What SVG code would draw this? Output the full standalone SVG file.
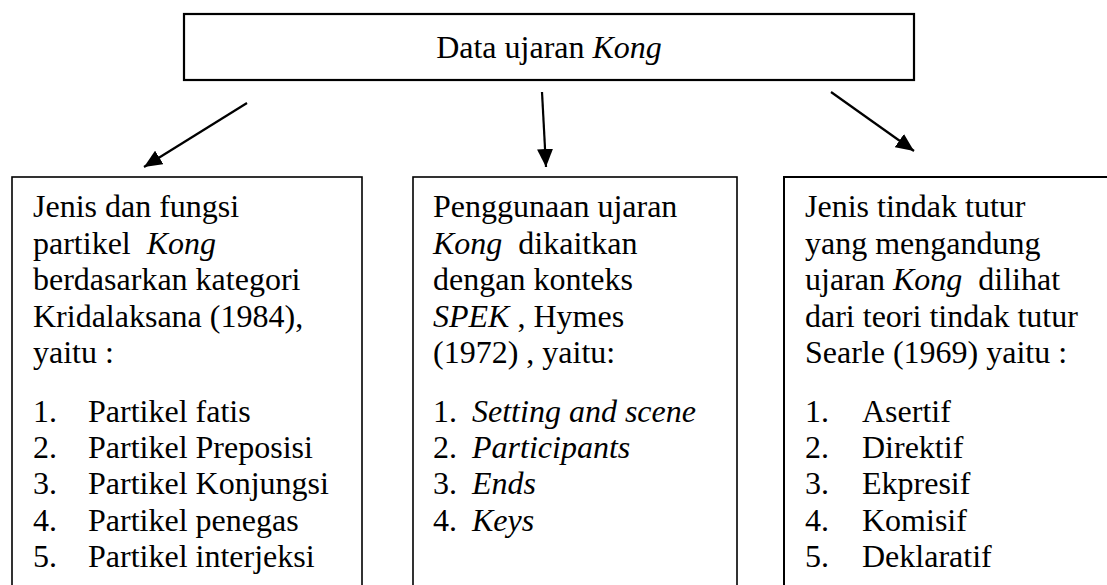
<svg xmlns="http://www.w3.org/2000/svg" width="1107" height="585" viewBox="0 0 1107 585">
<style>
  text { font-family: "Liberation Serif", "Times New Roman", "DejaVu Serif", "Noto Serif", serif; font-size: 32px; fill: #000; white-space: pre; }
  .i { font-style: italic; }
  .box { fill: #fff; stroke: #000; }
  .conn { stroke: #000; stroke-width: 2.2; fill: none; marker-end: url(#ah); }
</style>
<defs>
  <marker id="ah" markerUnits="userSpaceOnUse" markerWidth="19" markerHeight="16" refX="18" refY="8" orient="auto">
    <path d="M0,0 L18,8 L0,16 Z" fill="#000"/>
  </marker>
</defs>
<rect width="1107" height="585" fill="#fff"/>

<g id="top">
  <rect class="box" x="184" y="14" width="730" height="66" stroke-width="2.2"/>
  <text x="549" y="58" text-anchor="middle">Data ujaran <tspan class="i">Kong</tspan></text>
</g>

<g id="connectors">
  <line class="conn" x1="247" y1="103" x2="144" y2="167"/>
  <line class="conn" x1="542" y1="92" x2="546" y2="167"/>
  <line class="conn" x1="831" y1="92" x2="914" y2="151"/>
</g>

<g id="left">
  <rect class="box" x="12" y="177" width="350" height="430" stroke-width="1.6"/>
  <text x="33" y="217">Jenis dan fungsi</text>
  <text x="33" y="253.5">partikel  <tspan class="i">Kong</tspan></text>
  <text x="33" y="290">berdasarkan kategori</text>
  <text x="33" y="326.5">Kridalaksana (1984),</text>
  <text x="33" y="363">yaitu :</text>
  <text x="33" y="421.5">1.</text><text x="88" y="421.5">Partikel fatis</text>
  <text x="33" y="458">2.</text><text x="88" y="458">Partikel Preposisi</text>
  <text x="33" y="494">3.</text><text x="88" y="494">Partikel Konjungsi</text>
  <text x="33" y="530.5">4.</text><text x="88" y="530.5">Partikel penegas</text>
  <text x="33" y="567">5.</text><text x="88" y="567">Partikel interjeksi</text>
</g>

<g id="middle">
  <rect class="box" x="413" y="177" width="324" height="430" stroke-width="1.6"/>
  <text x="433" y="217">Penggunaan ujaran</text>
  <text x="433" y="253.5"><tspan class="i">Kong</tspan>  dikaitkan</text>
  <text x="433" y="290">dengan konteks</text>
  <text x="433" y="326.5"><tspan class="i">SPEK</tspan> , Hymes</text>
  <text x="433" y="363">(1972) , yaitu:</text>
  <text x="433" y="421.5">1.</text><text class="i" x="472" y="421.5">Setting and scene</text>
  <text x="433" y="458">2.</text><text class="i" x="472" y="458">Participants</text>
  <text x="433" y="494">3.</text><text class="i" x="472" y="494">Ends</text>
  <text x="433" y="530.5">4.</text><text class="i" x="472" y="530.5">Keys</text>
</g>

<g id="right">
  <rect class="box" x="784" y="177" width="340" height="430" stroke-width="2"/>
  <text x="805" y="217">Jenis tindak tutur</text>
  <text x="805" y="253.5">yang mengandung</text>
  <text x="805" y="290">ujaran <tspan class="i">Kong</tspan>  dilihat</text>
  <text x="805" y="326.5">dari teori tindak tutur</text>
  <text x="805" y="363">Searle (1969) yaitu :</text>
  <text x="805" y="421.5">1.</text><text x="862" y="421.5">Asertif</text>
  <text x="805" y="458">2.</text><text x="862" y="458">Direktif</text>
  <text x="805" y="494">3.</text><text x="862" y="494">Ekpresif</text>
  <text x="805" y="530.5">4.</text><text x="862" y="530.5">Komisif</text>
  <text x="805" y="567">5.</text><text x="862" y="567">Deklaratif</text>
</g>
</svg>
